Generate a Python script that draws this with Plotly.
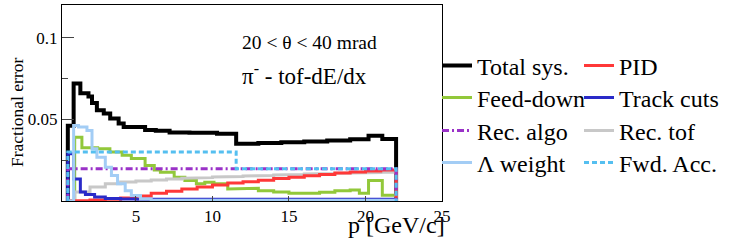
import plotly.graph_objects as go

# ---- data ----
total_edges = [0.55, 0.93, 1.37, 1.9, 2.13, 2.45, 2.9, 3.32, 3.87, 4.2, 5.6, 6.3, 7.2, 8.5, 10.3,
               11.55, 13, 14.5, 16, 17.5, 19, 20.2, 21.1, 22]
total_vals = [0.046, 0.072, 0.066, 0.064, 0.060, 0.0555, 0.0535, 0.0505, 0.0475, 0.0453, 0.0435,
              0.043, 0.042, 0.0418, 0.0412, 0.035, 0.0355, 0.036, 0.0365, 0.037, 0.0378, 0.040, 0.038]

pid_edges = [0.55, 1, 2, 3, 4, 5, 6, 7, 8, 9, 10, 11, 12, 13, 14, 15, 16, 17, 18, 19, 20, 21, 22]
pid_vals = [0.0, 0.0003, 0.0006, 0.0011, 0.0019, 0.003, 0.0047, 0.006, 0.0073, 0.0086, 0.0098,
            0.011, 0.0118, 0.0127, 0.0137, 0.0146, 0.0155, 0.0163, 0.0171, 0.0178, 0.0184, 0.019]

feed_edges = [0.55, 1.0, 1.47, 2.0, 2.5, 3.3, 4.1, 4.7, 5.6, 6.2, 6.6, 7.5, 8.2, 8.95, 9.5, 10.1,
              11.0, 12.0, 13.0, 14.0, 15.0, 16.0, 17.0, 18.0, 19.0, 19.6, 20.2, 21.1, 22]
feed_vals = [0.0, 0.039, 0.0326, 0.0326, 0.032, 0.030, 0.028, 0.026, 0.0217, 0.019, 0.0176, 0.0145,
             0.0125, 0.0105, 0.0115, 0.0105, 0.0074, 0.0078, 0.0063, 0.0055, 0.0047, 0.0047, 0.0053,
             0.0063, 0.0068, 0.0047, 0.0125, 0.0035]

track_edges = [0.55, 0.93, 1.37, 1.7, 2.3, 3.0, 4.0, 5.0, 22]
track_vals = [0.029, 0.0135, 0.0055, 0.004, 0.0024, 0.0016, 0.0012, 0.001]

algo_edges = [0.55, 22]
algo_vals = [0.0197]

tof_edges = [0.55, 1, 2, 3, 4, 5, 6, 7, 8, 9, 10, 11, 12, 13, 14, 15, 16, 17, 18, 19, 20, 21, 22]
tof_vals = [0.0, 0.0055, 0.0085, 0.0105, 0.0116, 0.0123, 0.0129, 0.0134, 0.0139, 0.0143, 0.0147,
            0.015, 0.0153, 0.0156, 0.0159, 0.0162, 0.0165, 0.0168, 0.017, 0.0172, 0.0174, 0.0176]

lam_edges = [0.55, 0.93, 1.25, 1.8, 2.13, 2.45, 3.0, 3.4, 3.8, 4.3, 4.7, 5.3, 6.0, 22]
lam_vals = [0.0, 0.0463, 0.0453, 0.0432, 0.032, 0.0268, 0.0207, 0.0156, 0.0105, 0.0063, 0.0033,
            0.0012, 0.0005]

fwd_edges = [0.55, 11.55, 22]
fwd_vals = [0.030, 0.0197]

x_ticks = [5, 10, 15, 20, 25]
y_ticks = [0.05, 0.1]
y_ticktext = ["0.05", "0.1"]

SERIF = "Liberation Serif, Times New Roman, serif"


def step(edges, vals):
    n = min(len(vals), len(edges) - 1)
    xs = [edges[0]]
    ys = [0.0]
    for i in range(n):
        xs += [edges[i], edges[i + 1]]
        ys += [vals[i], vals[i]]
    xs.append(edges[n])
    ys.append(0.0)
    return xs, ys


series = [
    # name, edges, vals, color, width, dash, legend row, column
    ("Total sys.", total_edges, total_vals, "#000000", 4, "solid", "legend", 1),
    ("Feed-down", feed_edges, feed_vals, "#92c83a", 3, "solid", "legend2", 1),
    ("Rec. tof", tof_edges, tof_vals, "#c8c8c8", 3, "solid", "legend3", 2),
    ("PID", pid_edges, pid_vals, "#ff3838", 3, "solid", "legend", 2),
    ("Track cuts", track_edges, track_vals, "#2a2ac8", 3, "solid", "legend2", 2),
    ("Rec. algo", algo_edges, algo_vals, "#9a32c8", 3, "7px,3px,2px,3px", "legend3", 1),
    ("Λ weight", lam_edges, lam_vals, "#a3cdf5", 3, "solid", "legend4", 1),
    ("Fwd. Acc.", fwd_edges, fwd_vals, "#55bff0", 3, "5px,3px", "legend4", 2),
]

fig = go.Figure()
for name, e, v, col, w, dash, leg, rank in series:
    xs, ys = step(e, v)
    fig.add_trace(go.Scatter(x=xs, y=ys, mode="lines", name=name, legend=leg,
                             legendrank=rank,
                             line=dict(color=col, width=w, dash=dash, shape="linear"),
                             hoverinfo="skip"))

PLOT_L, PLOT_B, PLOT_W, PLOT_H = 62, 201, 380, 196


def legend_row(yc):
    return dict(orientation="h", x=(437 - PLOT_L) / PLOT_W, xanchor="left",
                y=(PLOT_B - yc) / PLOT_H, yanchor="middle",
                font=dict(family=SERIF, size=24, color="black"),
                itemwidth=30, entrywidth=97, traceorder="normal",
                bgcolor="rgba(0,0,0,0)", borderwidth=0)


fig.update_layout(
    width=747, height=240,
    margin=dict(l=62, r=305, t=5, b=39, autoexpand=False),
    paper_bgcolor="white", plot_bgcolor="white",
    font=dict(family=SERIF, size=17, color="black"),
    showlegend=True,
    legend=legend_row(66),
    legend2=legend_row(98),
    legend3=legend_row(131),
    legend4=legend_row(163),
    xaxis=dict(range=[0.17, 25], tickvals=x_ticks, ticks="inside", ticklen=5,
               showgrid=False, zeroline=False, showline=True, linecolor="black",
               linewidth=1, mirror=True, tickfont=dict(family=SERIF, size=17)),
    yaxis=dict(range=[0, 0.12], tickvals=y_ticks, ticktext=y_ticktext, ticks="inside",
               ticklen=12, showgrid=False, zeroline=False, showline=True, linecolor="black",
               linewidth=1, mirror=True, tickfont=dict(family=SERIF, size=17),
               minor=dict(tickvals=[0.025, 0.075], ticks="inside", ticklen=6, showgrid=False)),
    annotations=[
        dict(text="20 < θ < 40 mrad", xref="paper", yref="paper",
             x=(240 - 62) / 380, y=(201 - 42) / 196, xanchor="left", yanchor="middle",
             showarrow=False, font=dict(family=SERIF, size=19.5)),
        dict(text="π<sup>-</sup> - tof-dE/dx", xref="paper", yref="paper",
             x=(240 - 62) / 380, y=(201 - 74) / 196, xanchor="left", yanchor="middle",
             showarrow=False, font=dict(family=SERIF, size=23)),
        dict(text="p [GeV/c]", xref="paper", yref="paper",
             x=(447 - 62) / 380, y=(201 - 240) / 196, xanchor="right", yanchor="bottom",
             showarrow=False, font=dict(family=SERIF, size=24)),
        dict(text="Fractional error", xref="paper", yref="paper", textangle=-90,
             x=(17 - 62) / 380, y=(201 - 113) / 196, xanchor="center", yanchor="middle",
             showarrow=False, font=dict(family=SERIF, size=17.5)),
    ],
)

fig.write_html("out.html", post_script="document.body.style.margin='0px';",
               config={"displayModeBar": False})
